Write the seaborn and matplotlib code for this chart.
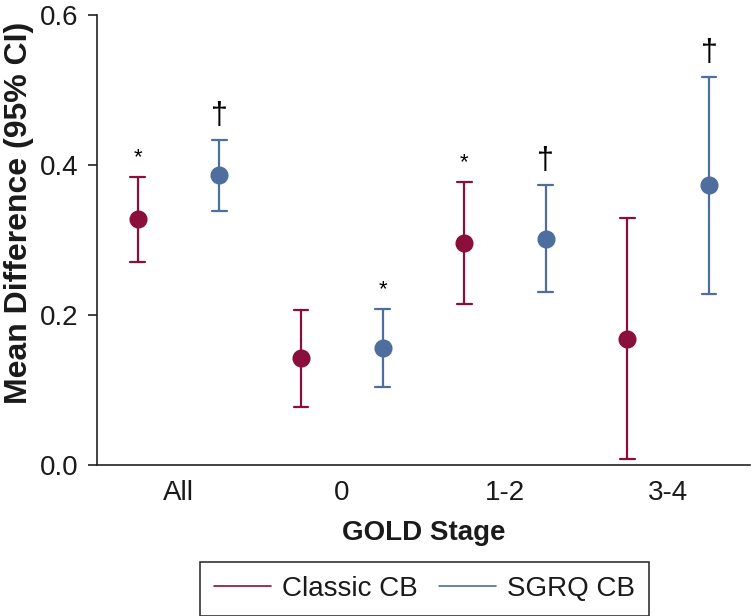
import numpy as np
import pandas as pd
import matplotlib
matplotlib.use("Agg")
import matplotlib.pyplot as plt
from matplotlib.lines import Line2D
import seaborn as sns

stages = ["All", "0", "1-2", "3-4"]
series = ["Classic CB", "SGRQ CB"]
classic_mean = [0.328, 0.143, 0.296, 0.168]
classic_lo = [0.271, 0.077, 0.215, 0.008]
classic_hi = [0.384, 0.207, 0.377, 0.329]
sgrq_mean = [0.387, 0.156, 0.301, 0.373]
sgrq_lo = [0.339, 0.104, 0.231, 0.228]
sgrq_hi = [0.433, 0.208, 0.373, 0.517]
classic_marks = ["*", "", "*", ""]
sgrq_marks = ["†", "*", "†", "†"]

colors = {"Classic CB": "#8a0f3b", "SGRQ CB": "#4e6e9e"}

rows = []
for name, m, lo, hi in [("Classic CB", classic_mean, classic_lo, classic_hi),
                        ("SGRQ CB", sgrq_mean, sgrq_lo, sgrq_hi)]:
    for st, a, b, c in zip(stages, m, lo, hi):
        for v in (b, a, c):
            rows.append({"stage": st, "series": name, "value": v})
df = pd.DataFrame(rows)

sns.set_theme(style="ticks")
plt.rcParams["font.family"] = ["Liberation Sans", "DejaVu Sans"]

fig = plt.figure(figsize=(7.52, 6.16), dpi=100)
ax = fig.add_axes([0.129, 0.245, 0.868, 0.731])

sns.pointplot(data=df, x="stage", y="value", hue="series", order=stages,
              hue_order=series, palette=colors, estimator="median",
              errorbar=("pi", 100), dodge=0.5, linestyle="none",
              markers="o", markersize=11, capsize=0.09, err_kws={"linewidth": 1.6},
              ax=ax, legend=False)

# significance marks
for i, (name, marks, hi) in enumerate([("Classic CB", classic_marks, classic_hi),
                                       ("SGRQ CB", sgrq_marks, sgrq_hi)]):
    off = -0.25 if i == 0 else 0.25
    for j, (mk, h) in enumerate(zip(marks, hi)):
        if mk:
            fs = 16 if mk == "*" else 22
            ax.text(j + off, h + 0.012, mk, ha="center", va="bottom",
                    fontsize=fs, color="black")

ax.set_xlim(-0.5, 3.5)
ax.set_ylim(0, 0.6)
ax.set_yticks([0.0, 0.2, 0.4, 0.6])
ax.set_yticklabels(["0.0", "0.2", "0.4", "0.6"])
sns.despine(ax=ax)
for sp in ("left", "bottom"):
    ax.spines[sp].set_linewidth(1.2)
    ax.spines[sp].set_color("#222222")
ax.tick_params(axis="y", length=6.5, width=1.2, labelsize=20, color="#222222",
               labelcolor="#1a1a1a", pad=7)
ax.tick_params(axis="x", length=0, labelsize=20, labelcolor="#1a1a1a", pad=11)
ax.set_xlabel("GOLD Stage", fontsize=20, fontweight="bold", labelpad=10, color="#1a1a1a")
ax.set_ylabel("Mean Difference (95% CI)", fontsize=23, fontweight="bold",
              color="#1a1a1a")
ax.yaxis.set_label_coords(-0.097, 0.56)

handles = [Line2D([], [], color=colors[s], linewidth=1.2) for s in series]
leg = fig.legend(handles, series, loc="center", bbox_to_anchor=(0.5645, 0.044),
                 ncol=2, fontsize=20, frameon=True, fancybox=False,
                 handlelength=2.05, handletextpad=0.4, columnspacing=0.75,
                 borderpad=0.5, edgecolor="black")
leg.get_frame().set_linewidth(1.2)
for t in leg.get_texts():
    t.set_color("#1a1a1a")

fig.savefig("out.png", dpi=100)
